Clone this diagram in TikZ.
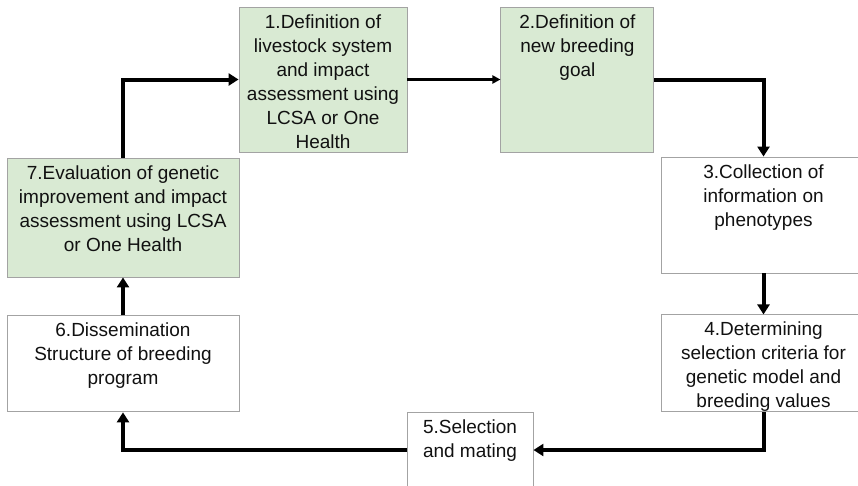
\documentclass[tikz,border=0pt]{standalone}
\usepackage{fontspec}
\setmainfont{Liberation Sans}
\usetikzlibrary{arrows.meta,
	positioning
}
\definecolor{stage-green}{HTML}{D9EAD3}
\definecolor{stage-border}{HTML}{A3A3A3}
\definecolor{stage-ink}{HTML}{111111}
\tikzset{
	stage/.style={draw=stage-border, line width=0.9pt, fill=white, inner sep=0pt},
	green-stage/.style={stage, fill=stage-green},
	stage-text/.style={anchor=north, align=center, inner sep=0pt, yshift=-7.5pt, text=stage-ink, font=\fontsize{19}{24}\selectfont},
	thin-flow/.style={line width=2.2pt, -{Triangle[length=8pt, width=8pt]}},
	thick-flow/.style={line width=4pt, -{Triangle[length=10pt, width=12pt]}},
}

\begin{document}
\begin{tikzpicture}[x=1pt, y=-1pt]

\useasboundingbox (0,0) rectangle (858,485);

% stages

\node[green-stage, minimum width=168pt, minimum height=145pt,
	label={[stage-text]north:1.Definition of\\livestock system\\and impact\\assessment using\\LCSA or One\\Health}] (n1) at (323,79.5) {};
\node[green-stage, minimum width=153pt, minimum height=145pt, right=93pt of n1,
	label={[stage-text]north:2.Definition of\\new breeding\\goal}] (n2) {};

\node[stage, minimum width=205pt, minimum height=116pt,
	label={[stage-text]north:3.Collection of\\information on\\phenotypes}] (n3) at (763.5,215) {};
\node[stage, minimum width=205pt, minimum height=97pt, below=41pt of n3,
	label={[stage-text]north:4.Determining\\selection criteria for\\genetic model and\\breeding values}] (n4) {};

\node[stage, minimum width=126pt, minimum height=76pt,
	label={[stage-text]north:5.Selection\\and mating}] (n5) at (470,450) {};

\node[green-stage, minimum width=232pt, minimum height=119pt,
	label={[stage-text]north:7.Evaluation of genetic\\improvement and impact\\assessment using LCSA\\or One Health}] (n7) at (123,217.5) {};
\node[stage, minimum width=232pt, minimum height=96pt, below=38pt of n7,
	label={[stage-text]north:6.Dissemination\\Structure of breeding\\program}] (n6) {};

% connections

\draw[thin-flow] (n1) -- (n2);
\draw[thick-flow] (n2.east) -| (n3.north);
\draw[thick-flow] (n3) -- (n4);
\draw[thick-flow] (n4.south) |- (n5.east);
\draw[thick-flow] (n5.west) -| (n6.south);
\draw[thick-flow] (n6) -- (n7);
\draw[thick-flow] (n7.north) |- (n1.west);

\end{tikzpicture}
\end{document}
